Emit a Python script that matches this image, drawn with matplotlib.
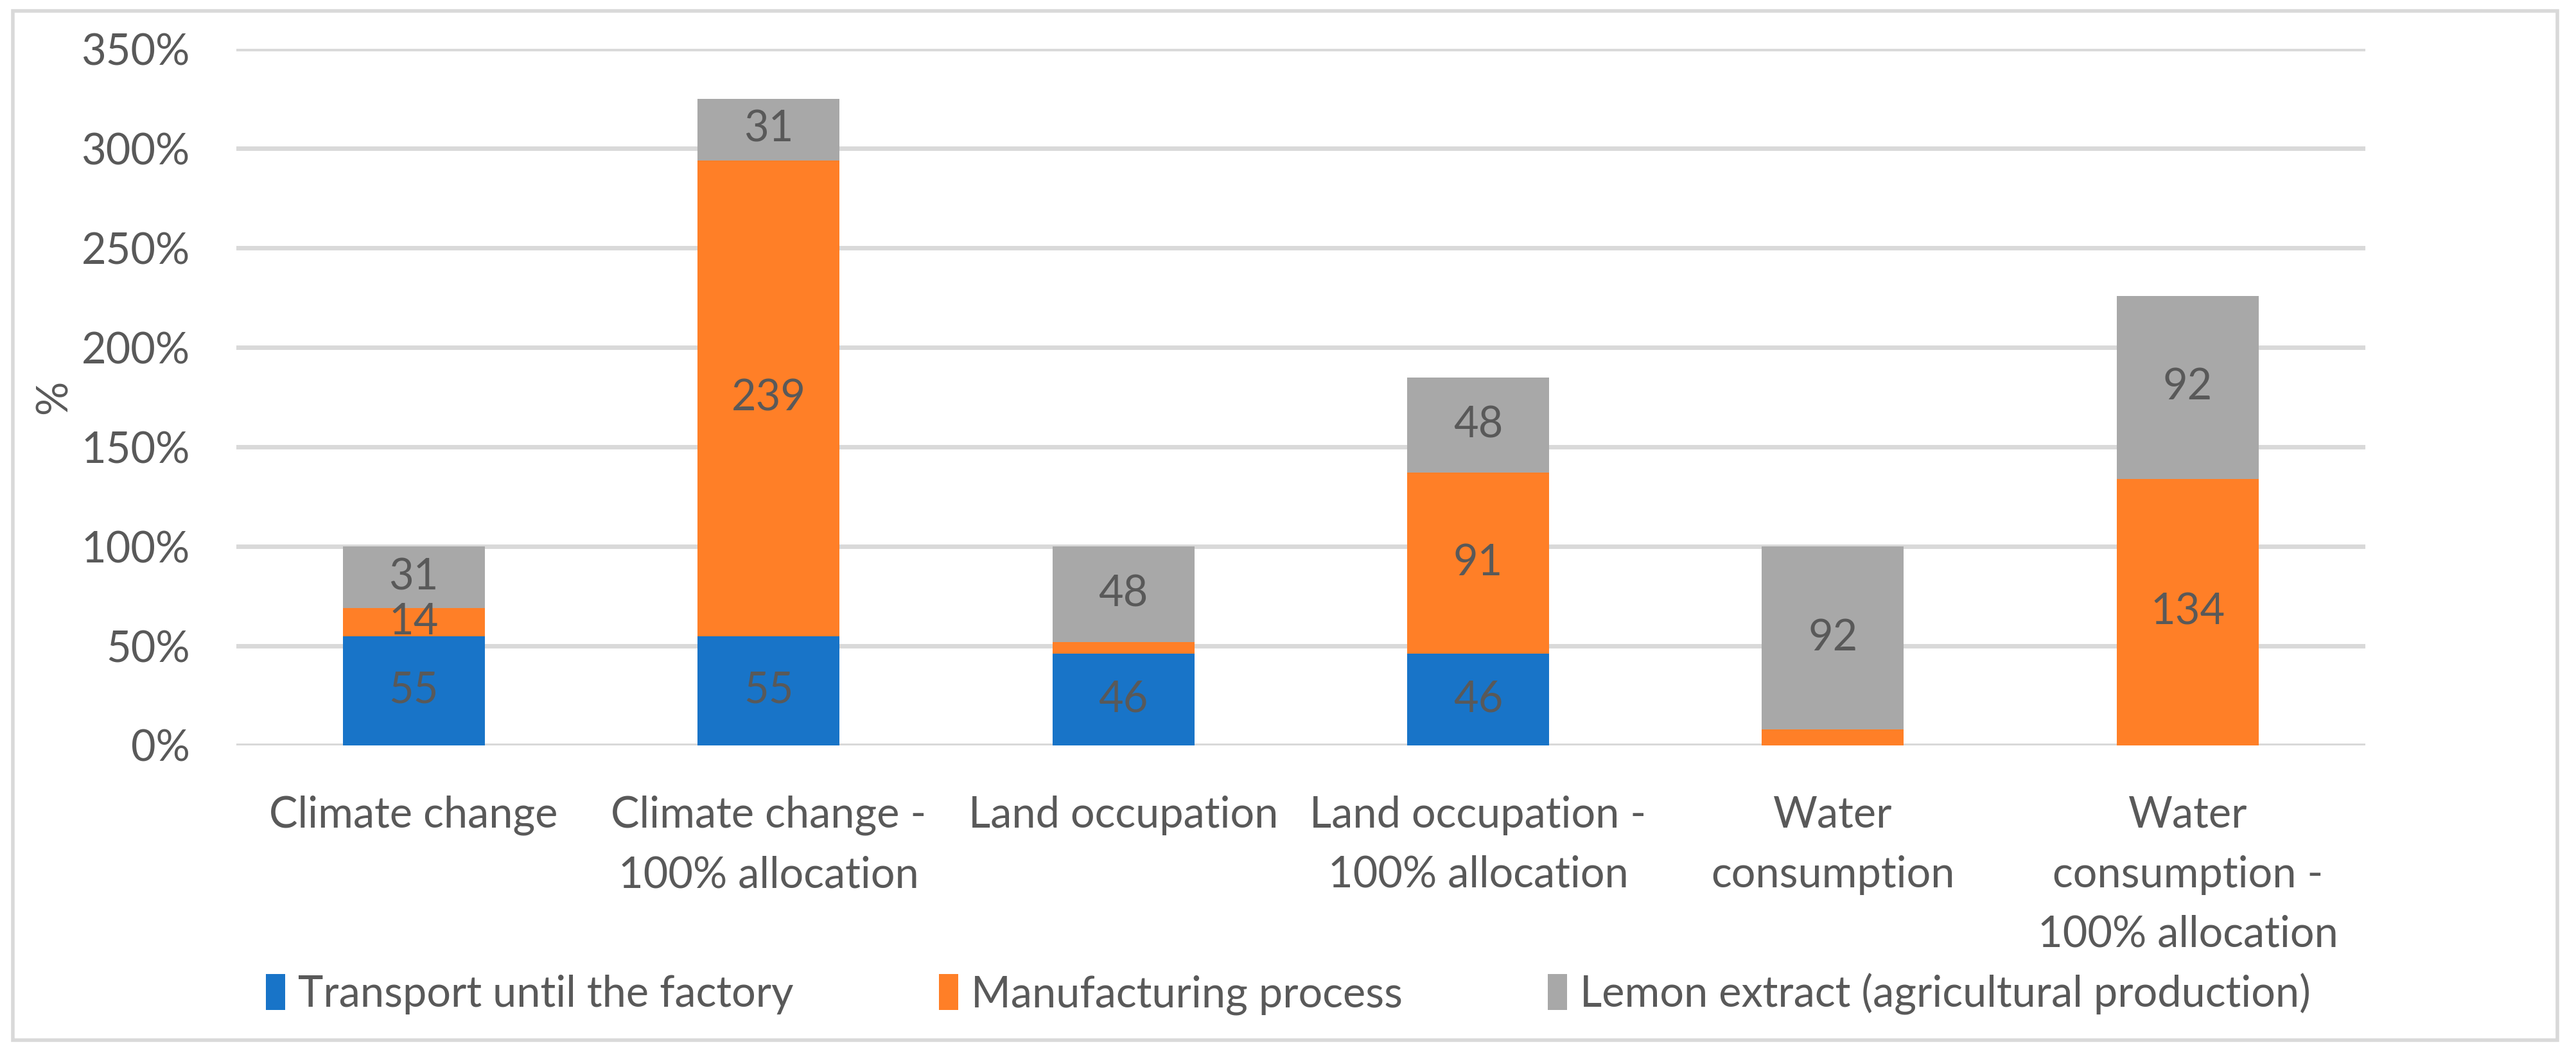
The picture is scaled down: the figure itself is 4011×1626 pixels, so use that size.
import numpy as np
import matplotlib.pyplot as plt
from matplotlib.patches import Rectangle

# data
categories = ["Climate change", "Climate change -\n100% allocation", "Land occupation",
              "Land occupation -\n100% allocation", "Water\nconsumption",
              "Water\nconsumption -\n100% allocation"]
transport = [55, 55, 46, 46, 0, 0]
manufacturing = [14, 239, 6, 91, 8, 134]
lemon = [31, 31, 48, 48, 92, 92]
series_names = ["Transport until the factory", "Manufacturing process",
                "Lemon extract (agricultural production)"]
yticks = [0, 50, 100, 150, 200, 250, 300, 350]

colors = ["#1874C8", "#FF7F27", "#A8A8A8"]
text_col = "#595959"
grid_col = "#D9D9D9"

plt.rcParams['font.family'] = ['Lato', 'DejaVu Sans']
fs = 48

fig = plt.figure(figsize=(40.12, 16.26), dpi=100)
ax = fig.add_axes([0.0917, 0.286, 0.8262, 0.667])

x = np.arange(len(categories))
bottoms = np.zeros(len(categories))
for vals, col, name in zip([transport, manufacturing, lemon], colors, series_names):
    vals = np.array(vals, dtype=float)
    ax.bar(x, vals, width=0.4, bottom=bottoms, color=col, label=name, zorder=3)
    # data labels (small segments are not labelled)
    for xi, b, v in zip(x, bottoms, vals):
        if v >= 10:
            ax.text(xi, b + v / 2, f"{int(v)}", ha="center", va="center",
                    fontsize=fs, color=text_col, zorder=4)
    bottoms += vals

# axes form
ax.set_xlim(-0.5, len(categories) - 0.5)
ax.set_ylim(0, 350)
ax.set_yticks(yticks)
ax.set_yticklabels([f"{t}%" for t in yticks])
ax.set_xticks(x)
ax.set_xticklabels(categories, linespacing=1.62)
ax.tick_params(axis="y", length=0, pad=52, labelsize=fs, labelcolor=text_col)
ax.tick_params(axis="x", length=0, pad=56, labelsize=fs, labelcolor=text_col)
ax.yaxis.grid(True, color=grid_col, linewidth=5, zorder=0)
for s in ax.spines.values():
    s.set_visible(False)
ax.axhline(0, color=grid_col, linewidth=5, zorder=2)
ax.set_ylabel("%", fontsize=fs, color=text_col)
ax.yaxis.set_label_coords(-0.076, 0.5)

# legend
fig.legend(loc="center", bbox_to_anchor=(0.5, 0.048), ncol=3, frameon=False,
           fontsize=fs, labelcolor=text_col, handlelength=0.45, handleheight=0.9,
           handletextpad=0.3, columnspacing=3.4)

# chart border
fig.patches.append(Rectangle((20 / 4012, 6 / 1626), 3962 / 4012, 1603 / 1626,
                             transform=fig.transFigure, fill=False,
                             edgecolor=grid_col, linewidth=4))

fig.savefig("out.png", dpi=100, facecolor="white")
